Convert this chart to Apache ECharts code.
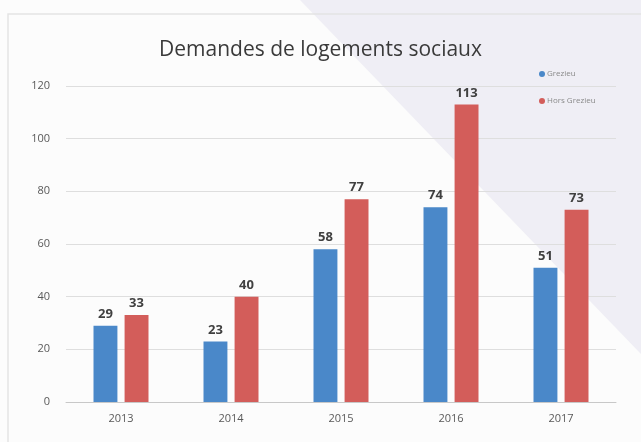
<!DOCTYPE html>
<html>
<head>
<meta charset="utf-8">
<script src="https://cdn.jsdelivr.net/npm/echarts@6/dist/echarts.min.js"></script>
<style>
  html, body { margin: 0; padding: 0; background: #fff; }
  #chart { width: 641px; height: 442px; }
</style>
</head>
<body>
<div id="chart"></div>
<script>
// données
const years = ["2013", "2014", "2015", "2016", "2017"];
const grezieu = [29, 23, 58, 74, 51];
const horsGrezieu = [33, 40, 77, 113, 73];
const yTicks = { min: 0, max: 120, interval: 20 };

const labelStyle = {
  show: true,
  position: "top",
  distance: 5,
  fontFamily: "Open Sans",
  fontWeight: "bold",
  fontSize: 13,
  color: "#404040"
};

let myChart = echarts.init(document.getElementById("chart"));
myChart.setOption({
  animation: false,
  backgroundColor: "#fcfcfc",
  graphic: [
    {
      type: "polygon",
      z: -10,
      shape: { points: [[300, 0], [641, 0], [641, 354]] },
      style: { fill: "#efeef5" }
    },
    {
      type: "polyline",
      z: -9,
      shape: { points: [[8, 442], [8, 14], [641, 14]] },
      style: { stroke: "#e4e4e4", lineWidth: 1.5, fill: null }
    }
  ],
  title: {
    text: "Demandes de logements sociaux",
    left: "center",
    top: 35,
    textStyle: {
      fontFamily: "Open Sans",
      fontWeight: "normal",
      fontSize: 21,
      color: "#3a3a3a"
    }
  },
  legend: {
    orient: "vertical",
    left: 534,
    top: 65,
    itemGap: 19,
    itemWidth: 6,
    itemHeight: 6,
    icon: "circle",
    textStyle: { fontSize: 8, color: "#8a8a8a", fontFamily: "Open Sans", padding: [0, 0, 0, -3] },
    data: ["Grezieu", "Hors Grezieu"]
  },
  grid: { left: 66, right: 25, top: 86, bottom: 40 },
  xAxis: {
    type: "category",
    data: years,
    axisLine: { lineStyle: { color: "#c8c8c8" } },
    axisTick: { show: false },
    axisLabel: { fontFamily: "Open Sans", fontSize: 11, color: "#595959", margin: 11 }
  },
  yAxis: {
    type: "value",
    min: yTicks.min,
    max: yTicks.max,
    interval: yTicks.interval,
    axisLine: { show: false },
    axisTick: { show: false },
    splitLine: { lineStyle: { color: "#dedede" } },
    axisLabel: { fontFamily: "Open Sans", fontSize: 11, color: "#595959", margin: 16 }
  },
  series: [
    {
      name: "Grezieu",
      type: "bar",
      data: grezieu,
      barGap: "30%",
      barCategoryGap: "50%",
      itemStyle: { color: "#4a88c9" },
      label: labelStyle
    },
    {
      name: "Hors Grezieu",
      type: "bar",
      data: horsGrezieu,
      itemStyle: { color: "#d35d5a" },
      label: labelStyle
    }
  ]
});
</script>
</body>
</html>
